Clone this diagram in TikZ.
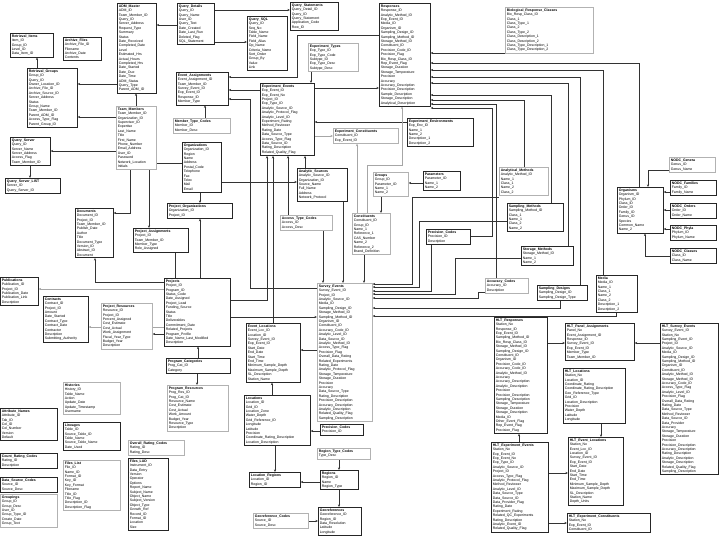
\documentclass[tikz,border=0pt]{standalone}
\usepackage{fontspec}
\setmainfont{Liberation Sans}
\usetikzlibrary{arrows.meta}
\pgfdeclarelayer{bg}
\pgfsetlayers{bg,main}
\newcommand{\fieldfont}{\fontsize{3.5}{4.4}\selectfont}
\newcommand{\ttl}[1]{\textbf{#1}}
\tikzset{
  tbl/.style={draw=black!85, line width=0.6pt, fill=white, anchor=north west, align=left, inner sep=1.5pt, font=\fieldfont},
  tblg/.style={tbl, draw=black!30},
  fk/.style={-{Stealth[length=2.6pt,width=2.2pt]}, line width=0.5pt, draw=black!80},
  fkg/.style={fk, draw=black!35},
  link/.style={line width=0.5pt, draw=black!80},
}
\begin{document}
\begin{tikzpicture}[x=1pt,y=-1pt]
\useasboundingbox (0,0) rectangle (720,540);

\node[tbl, text width=36pt] (adm) at (117,3) {\ttl{ADM\_Master}\\ ADM\_ID\\ Team\_Member\_ID\\ Query\_ID\\ Server\_Address\\ Request\_Type\\ Summary\\ Status\\ Date\_Received\\ Completed\_Date\\ Level\\ Estimated\_Hrs\\ Actual\_Hours\\ Completed\_Hrs\\ Date\_Started\\ Date\_Due\\ Date\_Time\\ ADM\_Status\\ Query\_Type\\ Parent\_ADM\_ID};
\node[tbl, text width=34pt] (qdet) at (177,3) {\ttl{Query\_Details}\\ Query\_ID\\ Query\_Name\\ User\_ID\\ Query\_Text\\ Date\_Created\\ Date\_Last\_Run\\ Deleted\_Flag\\ SQL\_Statement};
\node[tbl, text width=45pt] (qstat) at (290,2) {\ttl{Query\_Statements}\\ Query\_Detail\_ID\\ Query\_ID\\ Query\_Statement\\ Application\_Code\\ Row\_ID};
\node[tbl, text width=37pt] (qsql) at (247,16) {\ttl{Query\_SQL}\\ Query\_ID\\ Seq\_No\\ Table\_Name\\ Field\_Name\\ Field\_Alias\\ Op\_Name\\ Criteria\_Name\\ Sort\_Order\\ Group\_By\\ Value\\ Link};
\node[tbl, text width=40pt] (ritems) at (10,33) {\ttl{Retrieval\_Items}\\ Item\_ID\\ Group\_ID\\ Level\_ID\\ Data\_Item\_ID};
\node[tbl, text width=35pt] (afiles) at (63,37) {\ttl{Archive\_Files}\\ Archive\_File\_ID\\ Filename\\ Archive\_Date\\ Contents};
\node[tbl, text width=47pt] (rgroups) at (27,68) {\ttl{Retrieval\_Groups}\\ Group\_ID\\ Query\_ID\\ Owner\_Location\_ID\\ Archive\_File\_ID\\ Archive\_Source\_ID\\ Server\_Address\\ Status\\ Group\_Name\\ Team\_Member\_ID\\ Parent\_ADM\_ID\\ Access\_Type\_Flag\\ Parent\_Group\_ID};
\node[tblg, text width=37pt] (team) at (116,106) {\ttl{Team\_Members}\\ Team\_Member\_ID\\ Organization\_ID\\ Supervisor\_ID\\ Expertise\\ Last\_Name\\ Title\\ First\_Name\\ Phone\_Number\\ Email\_Address\\ User\_ID\\ Password\\ Network\_Location\\ Initials};
\node[tbl, text width=37pt] (qserv) at (10,137) {\ttl{Query\_Server}\\ Query\_ID\\ Server\_Name\\ Server\_Address\\ Access\_Flag\\ Team\_Member\_ID};
\node[tbl, text width=52pt] (qlist) at (5,178) {\ttl{Query\_Server\_LIST}\\ Server\_ID\\ Query\_Server\_ID};
\node[tbl, text width=49pt] (evasg) at (176,72) {\ttl{Event\_Assignments}\\ Event\_Assignment\_ID\\ Team\_Member\_ID\\ Survey\_Event\_ID\\ Exp\_Event\_ID\\ Response\_ID\\ Member\_Type};
\node[tblg, text width=54pt] (mtype) at (173,118) {\ttl{Member\_Type\_Codes}\\ Member\_ID\\ Member\_Desc};
\node[tbl, text width=36pt] (org) at (182,142) {\ttl{Organizations}\\ Organization\_ID\\ Region\\ Name\\ Address\\ Postal\_Code\\ Telephone\\ Fax\\ Telex\\ Mail\\ Email};
\node[tbl, text width=62pt] (porg) at (167,203) {\ttl{Project\_Organizations}\\ Organization\_ID\\ Project\_ID};
\node[tbl, text width=52pt] (pasg) at (133,228) {\ttl{Project\_Assignments}\\ Project\_ID\\ Team\_Member\_ID\\ Member\_Type\\ Role\_Assigned};
\node[tbl, text width=35pt] (docs) at (75,208) {\ttl{Documents}\\ Document\_ID\\ Project\_ID\\ Team\_Member\_ID\\ Publish\_Date\\ Author\\ Title\\ Document\_Type\\ Version\_ID\\ Abstract\_ID\\ Document};
\node[tbl, text width=63pt] (proj) at (164,278) {\ttl{Projects}\\ Project\_ID\\ Program\_ID\\ Status\_Code\\ Date\_Assigned\\ Project\_Lead\\ Funding\_Source\\ Status\\ Title\\ Deliverables\\ Commitment\_Date\\ Related\_Projects\\ Program\_Profile\\ Date\_Name\_Last\_Modified\\ Description};
\node[tbl, text width=35pt] (pubs) at (0,277) {\ttl{Publications}\\ Publication\_ID\\ Project\_ID\\ Publication\_Date\\ Publication\_Link\\ Description};
\node[tbl, text width=42pt] (contr) at (43,296) {\ttl{Contracts}\\ Contract\_ID\\ Project\_ID\\ Amount\\ Date\_Started\\ Contract\_Type\\ Contract\_Date\\ Contractor\\ Description\\ Submitting\_Authority};
\node[tblg, text width=48pt] (pres) at (101,303) {\ttl{Project\_Resources}\\ Resource\_ID\\ Project\_ID\\ Percent\_Assigned\\ Cost\_Estimate\\ Cost\_Actual\\ Work\_Assignment\\ Fiscal\_Year\_Type\\ Budget\_Year\\ Description};
\node[tbl, text width=61pt] (pcat) at (166,358) {\ttl{Program\_Categories}\\ Prog\_Cat\_ID\\ Category};
\node[tblg, text width=58pt] (pprog) at (167,385) {\ttl{Program\_Resources}\\ Prog\_Res\_ID\\ Prog\_Cat\_ID\\ Resource\_Name\\ Cost\_Estimate\\ Cost\_Actual\\ Work\_Amount\\ Budget\_Year\\ Resource\_Type\\ Description};
\node[tblg, text width=54pt] (hist) at (63,382) {\ttl{Histories}\\ History\_ID\\ Table\_Name\\ Action\\ Update\_Date\\ Update\_Timestamp\\ Username};
\node[tbl, text width=54pt] (attr) at (0,408) {\ttl{Attribute\_Names}\\ Attribute\_ID\\ Tab\_ID\\ Col\_ID\\ Col\_Number\\ Version\\ Default};
\node[tbl, text width=54pt] (lin) at (63,422) {\ttl{Lineages}\\ Table\_ID\\ Source\_Table\_ID\\ Table\_Name\\ Source\_Table\_Name\\ Date\_Used};
\node[tbl, text width=54pt] (crc) at (0,453) {\ttl{Count\_Rating\_Codes}\\ Rating\_ID\\ Description};
\node[tbl, text width=54pt] (dsc) at (0,477) {\ttl{Data\_Source\_Codes}\\ Source\_ID\\ Source\_Desc};
\node[tblg, text width=54pt] (grp) at (0,494) {\ttl{Groupings}\\ Group\_ID\\ Group\_Desc\\ User\_ID\\ Group\_Type\_ID\\ Create\_Date\\ Group\_Text};
\node[tblg, text width=54pt] (flist) at (63,460) {\ttl{Files\_List}\\ File\_ID\\ Name\_ID\\ Format\_ID\\ Key\_ID\\ Key\_Format\\ Filename\\ Title\_ID\\ Title\_Flag\\ Description\_ID\\ Description\_Flag};
\node[tblg, text width=53pt] (orc) at (128,440) {\ttl{Overall\_Rating\_Codes}\\ Rating\_ID\\ Rating\_Desc};
\node[tbl, text width=37pt] (flud) at (128,458) {\ttl{Files\_LUD}\\ Instrument\_ID\\ Data\_Entry\\ Version\\ Operator\\ Options\\ Report\_Name\\ Subject\_Name\\ Object\_Name\\ Subject\_Version\\ Object\_Type\\ Growth\_Ref\\ Record\_ID\\ Format\_ID\\ Location\\ Size};

\node[tblg, text width=47pt] (etypes) at (308,43) {\ttl{Experiment\_Types}\\ Exp\_Type\_ID\\ Exp\_Type\_Code\\ Subtype\_ID\\ Exp\_Type\_Desc\\ Subtype\_Desc};
\node[tbl, text width=51pt] (eevents) at (260,83) {\ttl{Experiment\_Events}\\ Exp\_Event\_ID\\ Exp\_Event\_No\\ Project\_ID\\ Exp\_Type\_ID\\ Analytic\_Source\_ID\\ Analytic\_Protocol\_Flag\\ Analytic\_Level\_ID\\ Experiment\_Rating\\ Method\_Reviewer\\ Rating\_Date\\ Data\_Source\_Type\\ Access\_Type\_Flag\\ Data\_Source\_ID\\ Rating\_Description\\ Related\_Quality\_Flag};
\node[tbl, text width=48pt] (resp) at (379,3) {\ttl{Responses}\\ Response\_ID\\ Analytic\_Method\_ID\\ Exp\_Event\_ID\\ Media\_ID\\ Organism\_ID\\ Sampling\_Design\_ID\\ Sampling\_Method\_ID\\ Storage\_Method\_ID\\ Constituent\_ID\\ Precision\_Code\_ID\\ Precision\_Flag\\ Bio\_Resp\_Class\_ID\\ Rep\_Event\_Flag\\ Storage\_Duration\\ Storage\_Temperature\\ Precision\\ Accuracy\\ Accuracy\_Description\\ Precision\_Description\\ Sample\_Description\\ Storage\_Description\\ Analytical\_Description};
\node[tblg, text width=62pt] (econs) at (333,128) {\ttl{Experiment\_Constituents}\\ Constituent\_ID\\ Exp\_Event\_ID};
\node[tbl, text width=63pt] (eenv) at (407,118) {\ttl{Experiment\_Environments}\\ Exp\_Env\_ID\\ Name\_1\\ Name\_2\\ Description\_1\\ Description\_2};
\node[tblg, text width=85pt] (brc) at (505,7) {\ttl{Biological\_Response\_Classes}\\ Bio\_Resp\_Class\_ID\\ Class\_1\\ Class\_Type\_1\\ Class\_2\\ Class\_Type\_2\\ Class\_Description\_1\\ Class\_Description\_2\\ Class\_Type\_Description\_1\\ Class\_Type\_Description\_2};
\node[tbl, text width=47pt] (asrc) at (297,168) {\ttl{Analytic\_Sources}\\ Analytic\_Source\_ID\\ Organization\_ID\\ Source\_Name\\ Full\_Name\\ Address\\ Network\_Protocol};
\node[tblg, text width=49pt] (atc) at (280,215) {\ttl{Access\_Type\_Codes}\\ Access\_ID\\ Access\_Desc};
\node[tblg, text width=32pt] (groups) at (373,172) {\ttl{Groups}\\ Group\_ID\\ Parameter\_ID\\ Name\_1\\ Name\_2};
\node[tbl, text width=34pt] (params) at (423,171) {\ttl{Parameters}\\ Parameter\_ID\\ Name\_1\\ Name\_2};
\node[tblg, text width=35pt] (consts) at (352,213) {\ttl{Constituents}\\ Constituent\_ID\\ Group\_ID\\ Name\_1\\ Reference\_1\\ CAS\_Number\\ Name\_2\\ Reference\_2\\ Brand\_Definition};
\node[tbl, text width=41pt] (prec) at (426,229) {\ttl{Precision\_Codes}\\ Precision\_ID\\ Description};
\node[tblg, text width=46pt] (amethods) at (499,167) {\ttl{Analytical\_Methods}\\ Analytic\_Method\_ID\\ Name\_1\\ Class\_1\\ Name\_2\\ Class\_2};
\node[tbl, text width=53pt] (smethods) at (507,203) {\ttl{Sampling\_Methods}\\ Sampling\_Method\_ID\\ Class\_1\\ Name\_1\\ Class\_2\\ Name\_2};
\node[tbl, text width=49pt] (stmethods) at (521,246) {\ttl{Storage\_Methods}\\ Storage\_Method\_ID\\ Name\_1\\ Name\_2};
\node[tblg, text width=40pt] (acc) at (485,278) {\ttl{Accuracy\_Codes}\\ Accuracy\_ID\\ Description};
\node[tbl, text width=47pt] (sdes) at (537,285) {\ttl{Sampling\_Designs}\\ Sampling\_Design\_ID\\ Sampling\_Design\_Type};
\node[tbl, text width=38pt] (media) at (596,275) {\ttl{Media}\\ Media\_ID\\ Name\_1\\ Class\_1\\ Name\_2\\ Class\_2\\ Description\_1\\ Description\_2};
\node[tbl, text width=43pt] (orgs) at (617,187) {\ttl{Organisms}\\ Organism\_ID\\ Phylum\_ID\\ Class\_ID\\ Order\_ID\\ Family\_ID\\ Genus\_ID\\ Species\\ Common\_Name\\ Name\_2};
\node[tblg, text width=43pt] (gen) at (669,157) {\ttl{NODC\_Genera}\\ Genus\_ID\\ Genus\_Name};
\node[tbl, text width=43pt] (fam) at (670,180) {\ttl{NODC\_Families}\\ Family\_ID\\ Family\_Name};
\node[tbl, text width=43pt] (ord) at (670,203) {\ttl{NODC\_Orders}\\ Order\_ID\\ Order\_Name};
\node[tbl, text width=43pt] (phy) at (670,225) {\ttl{NODC\_Phyla}\\ Phylum\_ID\\ Phylum\_Name};
\node[tbl, text width=43pt] (cls) at (670,248) {\ttl{NODC\_Classes}\\ Class\_ID\\ Class\_Name};

\node[tblg, text width=52pt] (sevents) at (317,283) {\ttl{Survey\_Events}\\ Survey\_Event\_ID\\ Project\_ID\\ Analytic\_Source\_ID\\ Media\_ID\\ Sampling\_Design\_ID\\ Storage\_Method\_ID\\ Sampling\_Method\_ID\\ Organism\_ID\\ Constituent\_ID\\ Accuracy\_Code\_ID\\ Analytic\_Level\_ID\\ Data\_Source\_ID\\ Analytic\_Method\_ID\\ Access\_Type\_Flag\\ Precision\_Flag\\ Overall\_Data\_Rating\\ Related\_Experiments\\ Rating\_Date\\ Analytic\_Protocol\_Flag\\ Storage\_Temperature\\ Storage\_Duration\\ Precision\\ Accuracy\\ Data\_Source\_Type\\ Rating\_Description\\ Precision\_Description\\ Accuracy\_Description\\ Analytic\_Description\\ Related\_Quality\_Flag\\ Sampling\_Description};
\node[tbl, text width=51pt] (evloc) at (246,323) {\ttl{Event\_Locations}\\ Event\_Loc\_ID\\ Location\_ID\\ Survey\_Event\_ID\\ Exp\_Event\_ID\\ Start\_Date\\ End\_Date\\ Start\_Time\\ End\_Time\\ Minimum\_Sample\_Depth\\ Maximum\_Sample\_Depth\\ SL\_Description\\ Station\_Name};
\node[tbl, text width=63pt] (loc) at (244,395) {\ttl{Locations}\\ Location\_ID\\ Grid\_ID\\ Location\_Zone\\ Water\_Depth\\ Grid\_Reference\_ID\\ Longitude\\ Latitude\\ Precision\\ Coordinate\_Rating\_Description\\ Location\_Description};
\node[tbl, text width=40pt] (pos) at (320,424) {\ttl{Precision\_Codes}\\ Precision\_ID};
\node[tbl, text width=48pt] (locreg) at (249,472) {\ttl{Location\_Regions}\\ Location\_ID\\ Region\_ID};
\node[tblg, text width=50pt] (rtc) at (317,448) {\ttl{Region\_Type\_Codes}\\ Type\_Desc};
\node[tbl, text width=35pt] (regions) at (320,470) {\ttl{Regions}\\ Region\_ID\\ Name\\ Region\_Type};
\node[tbl, text width=40pt] (georef) at (318,507) {\ttl{Georeferences}\\ Georeference\_ID\\ Region\_ID\\ Data\_Resolution\\ Latitude\\ Longitude};
\node[tblg, text width=52pt] (gcodes) at (253,513) {\ttl{Georeference\_Codes}\\ Source\_ID\\ Source\_Desc};

\node[tbl, text width=50pt] (hresp) at (494,317) {\ttl{HLT\_Responses}\\ Station\_No\\ Response\_ID\\ Exp\_Event\_ID\\ Sampling\_Method\_ID\\ Bio\_Resp\_Class\_ID\\ Storage\_Method\_ID\\ Sampling\_Design\_ID\\ Constituent\_ID\\ Organism\_ID\\ Precision\_Code\_ID\\ Accuracy\_Code\_ID\\ Analytic\_Method\_ID\\ Accuracy\\ Accuracy\_Description\\ Analytic\_Description\\ Precision\\ Precision\_Description\\ Sampling\_Description\\ Storage\_Temperature\\ Storage\_Duration\\ Storage\_Description\\ Media\_ID\\ Other\_Event\_Flag\\ Rep\_Event\_Flag\\ Precision\_Flag};
\node[tbl, text width=66pt] (hpanel) at (565,323) {\ttl{HLT\_Panel\_Assignments}\\ Panel\_No\\ Event\_Assignment\_ID\\ Response\_ID\\ Survey\_Event\_ID\\ Exp\_Event\_ID\\ Member\_Type\\ Team\_Member\_ID};
\node[tbl, text width=55pt] (hsev) at (660,323) {\ttl{HLT\_Survey\_Events}\\ Survey\_Event\_ID\\ Station\_No\\ Sampling\_Event\_ID\\ Project\_ID\\ Analytic\_Source\_ID\\ Media\_ID\\ Sampling\_Design\_ID\\ Sampling\_Method\_ID\\ Organism\_ID\\ Constituent\_ID\\ Analytic\_Method\_ID\\ Storage\_Method\_ID\\ Accuracy\_Code\_ID\\ Access\_Type\_Flag\\ Analytic\_Level\_ID\\ Precision\_Flag\\ Overall\_Data\_Rating\\ Rating\_Date\\ Data\_Source\_Type\\ Method\_Reviewer\\ Data\_Source\_ID\\ Data\_Provider\\ Accuracy\\ Storage\_Temperature\\ Storage\_Duration\\ Precision\\ Precision\_Description\\ Accuracy\_Description\\ Rating\_Description\\ Analytic\_Description\\ Storage\_Description\\ Related\_Quality\_Flag\\ Sampling\_Description};
\node[tbl, text width=59pt] (hloc) at (563,368) {\ttl{HLT\_Locations}\\ Station\_No\\ Location\_ID\\ Coordinate\_Rating\\ Coordinate\_Rating\_Description\\ Geo\_Reference\_Type\\ Grid\_ID\\ Location\_Description\\ Precision\\ Water\_Depth\\ Latitude\\ Longitude};
\node[tbl, text width=52pt] (hevloc) at (568,437) {\ttl{HLT\_Event\_Locations}\\ Station\_No\\ Event\_Loc\_ID\\ Location\_ID\\ Survey\_Event\_ID\\ Exp\_Event\_ID\\ Start\_Date\\ End\_Date\\ Start\_Time\\ End\_Time\\ Minimum\_Sample\_Depth\\ Maximum\_Sample\_Depth\\ SL\_Description\\ Station\_Name\\ Depth\_Units};
\node[tbl, text width=54pt] (hexev) at (491,442) {\ttl{HLT\_Experiment\_Events}\\ Station\_No\\ Exp\_Event\_ID\\ Exp\_Event\_No\\ Exp\_Type\_ID\\ Analytic\_Source\_ID\\ Project\_ID\\ Access\_Type\_Flag\\ Analytic\_Protocol\_Flag\\ Method\_Reviewer\\ Analytic\_Level\_ID\\ Data\_Source\_Type\\ Data\_Source\_ID\\ Data\_Provider\_Flag\\ Rating\_Date\\ Experiment\_Rating\\ Related\_QC\_Experiments\\ Rating\_Description\\ Analytic\_Event\_ID\\ Related\_Quality\_Flag};
\node[tbl, text width=80pt] (hexcon) at (567,513) {\ttl{HLT\_Experiment\_Constituents}\\ Station\_No\\ Exp\_Event\_ID\\ Constituent\_ID};

\begin{pgfonlayer}{bg}
% admin tables
\draw[fk] (qdet.west |- 0,25) -- (adm.east |- 0,25);
\draw[fk] (team.north -| 136,0) -- (adm.south -| 136,0);
\draw[fk] (adm.west |- 0,84) -- (rgroups.east |- 0,84);
\draw[fk] (team.west |- 0,117) -- (rgroups.east |- 0,117);
\draw[fk] (team.west |- 0,151) -- (qserv.east |- 0,151);
\draw[fk] (qserv.south -| 30,0) -- (qlist.north -| 30,0);
\draw[fk] (rgroups.north -| 37,0) -- (ritems.south -| 37,0);
\draw[link] (team.east |- 0,163) -- (org.west |- 0,163);
\draw[fk] (team.south -| 130,0) |- (docs.east |- 0,213);
\draw[fk] (team.south -| 149,0) -- (pasg.north -| 149,0);
\draw[fk] (org.south -| 200,0) -- (porg.north -| 200,0);
\draw[fk] (org.east |- 0,182) -- (asrc.west |- 0,182);
\draw[fk] (qdet.east |- 0,10) -- (qstat.west |- 0,10);
\draw[fk] (qdet.east |- 0,42) -- (qsql.west |- 0,42);
\draw[fk] (mtype.north -| 205,0) -- (evasg.south -| 205,0);
% events
\draw[fk] (resp.west |- 0,35) -| (297,77) -- (evasg.east |- 0,77);
\draw[fk] (eevents.west |- 0,90) -- (evasg.east |- 0,90);
\draw[fk] (sevents.west |- 0,288) -| (250,99) -- (evasg.east |- 0,99);
\draw[fk] (eevents.east |- 0,88) -- (resp.west |- 0,88);
\draw[fk] (etypes.south -| 311,0) -- (eevents.north -| 311,0);
\draw[fk] (eenv.west |- 0,122) -- (eevents.east |- 0,122);
\draw[fkg] (eevents.east |- 0,136) -- (econs.west |- 0,136);
\draw[fkg] (consts.north -| 357,0) -- (econs.south -| 357,0);
\draw[fk] (atc.north -| 288,0) -- (eevents.south -| 288,0);
\draw[fk] (asrc.north -| 305,0) -- (eevents.south -| 305,0);
\draw[fk] (evloc.north -| 273,0) -- (eevents.south -| 273,0);
\draw[fk] (proj.east |- 0,300) -| (eevents.south -| 267,0);
% responses
\draw[fk] (brc.west |- 0,53) -- (resp.east |- 0,53);
\draw[fk] (orgs.north -| 639,0) |- (resp.east |- 0,63);
\draw[fk] (media.north -| 603,0) |- (resp.east |- 0,70);
\draw[fk] (sdes.north -| 580,0) |- (resp.east |- 0,77);
\draw[fk] (stmethods.north -| 568,0) |- (resp.east |- 0,83);
\draw[fk] (smethods.north -| 551,0) |- (resp.east |- 0,95);
\draw[fk] (amethods.north -| 524,0) |- (resp.east |- 0,100);
\draw[fk] (acc.north -| 496,0) |- (resp.east |- 0,104);
\draw[fk] (prec.east |- 0,236) -| (492,108) -- (resp.east |- 0,108);
\draw[fkg] (consts.north -| 367,0) |- (402,165) -- (resp.south -| 402,0);
\draw[fk] (params.west |- 0,183) -- (groups.east |- 0,183);
\draw[fk] (groups.south -| 381,0) -- (consts.north -| 381,0);
% survey events
\draw[fk] (atc.south -| 323,0) -- (sevents.north -| 323,0);
\draw[fk] (asrc.south -| 343,0) -- (sevents.north -| 343,0);
\draw[fk] (consts.south -| 364,0) -- (sevents.north -| 364,0);
\draw[fk] (amethods.west |- 0,197) -| (412,284) -- (sevents.east |- 0,284);
\draw[fk] (smethods.west |- 0,221) -| (419,287) -- (sevents.east |- 0,287);
\draw[fk] (prec.south -| 431,0) |- (sevents.east |- 0,291);
\draw[fk] (stmethods.west |- 0,258) -| (455,294) -- (sevents.east |- 0,294);
\draw[fk] (acc.west |- 0,292) -| (478,298) -- (sevents.east |- 0,298);
\draw[fk] (sdes.south -| 560,0) |- (sevents.east |- 0,308);
\draw[fk] (media.south -| 616,0) |- (sevents.east |- 0,316);
\draw[fk] (proj.east |- 0,317) -- (sevents.west |- 0,317);
\draw[fk] (sevents.west |- 0,350) -- (evloc.east |- 0,350);
% locations
\draw[fk] (loc.north -| 272,0) -- (evloc.south -| 272,0);
\draw[fk] (pos.west |- 0,431) -- (loc.east |- 0,431);
\draw[fk] (loc.south -| 275,0) -- (locreg.north -| 275,0);
\draw[fk] (regions.west |- 0,482) -- (locreg.east |- 0,482);
\draw[fk] (rtc.south -| 339,0) -- (regions.north -| 339,0);
\draw[fk] (regions.south -| 339,0) -- (georef.north -| 339,0);
\draw[fk] (gcodes.east |- 0,521) -- (georef.west |- 0,521);
% projects
\draw[link] (proj.north -| 175,0) -- (pasg.south -| 175,0);
\draw[fk] (proj.north -| 200,0) -- (porg.south -| 200,0);
\draw[fk] (proj.west |- 0,282) -| (docs.south -| 95,0);
\draw[fkg] (proj.west |- 0,289) -- (pubs.east |- 0,289);
\draw[fkg] (proj.west |- 0,327) -- (contr.east |- 0,327);
\draw[fk] (proj.west |- 0,334) -- (pres.east |- 0,334);
\draw[fk] (pcat.north -| 198,0) -- (proj.south -| 198,0);
\draw[fk] (pcat.south -| 197,0) -- (pprog.north -| 197,0);
% taxonomy
\draw[fk] (gen.west |- 0,170) -| (orgs.north -| 648,0);
\draw[fk] (fam.west |- 0,192) -- (orgs.east |- 0,192);
\draw[fk] (ord.west |- 0,210) -- (orgs.east |- 0,210);
\draw[fk] (phy.west |- 0,229) -- (orgs.east |- 0,229);
\draw[fk] (cls.west |- 0,256) -| (orgs.south -| 645,0);
% HLT tables
\draw[fk] (hresp.east |- 0,343) -- (hpanel.west |- 0,343);
\draw[fk] (hsev.west |- 0,343) -- (hpanel.east |- 0,343);
\draw[fk] (hloc.south -| 601,0) -- (hevloc.north -| 601,0);
\draw[fk] (hexev.east |- 0,473) -- (hevloc.west |- 0,473);
\draw[fk] (hexev.east |- 0,523) -- (hexcon.west |- 0,523);
\draw[fk] (hexev.north -| 519,0) -- (hresp.south -| 519,0);
\end{pgfonlayer}
\end{tikzpicture}
\end{document}
